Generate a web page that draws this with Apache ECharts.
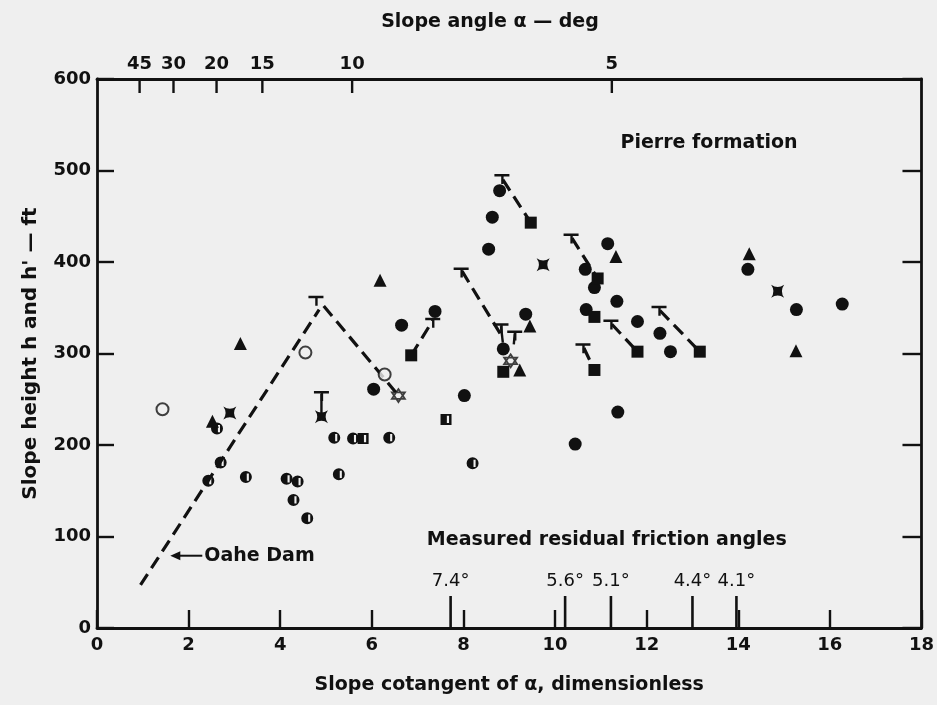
<!DOCTYPE html>
<html>
<head>
<meta charset="utf-8">
<script src="https://cdn.jsdelivr.net/npm/echarts@6/dist/echarts.min.js"></script>
<style>
html,body{margin:0;padding:0;background:#efefef;}
#chart{width:937px;height:705px;}
</style>
</head>
<body>
<div id="chart"></div>
<script>
// ---------- data ----------
const filledCircles = [[6.04,261],[6.65,331],[7.38,346],[8.02,254],[8.55,414],[8.63,449],[8.79,478],[8.87,305],[9.36,343],[10.44,201],[10.66,392],[10.86,372],[10.68,348],[11.15,420],[11.35,357],[11.37,236],[11.8,335],[12.29,322],[12.52,302],[14.21,392],[15.27,348],[16.27,354]];
const halfCircles = [[2.62,218],[2.7,181],[2.43,161],[3.25,165],[4.14,163],[4.38,160],[4.29,140],[4.59,120],[5.18,208],[5.28,168],[5.59,207],[6.38,208],[8.2,180]];
const halfSquares = [[5.81,207],[7.62,228]];
const openCircles = [[1.43,239],[4.55,301],[6.28,277]];
const triangles = [[2.52,226],[3.13,311],[6.18,380],[9.45,330],[9.23,282],[11.33,406],[14.24,409],[15.26,303]];
const squares = [[6.86,298],[9.47,443],[8.87,280],[10.93,382],[10.86,340],[10.86,282],[11.8,302],[13.16,302]];
const starSquares = [[2.9,235],[4.9,231],[9.74,397],[14.86,368]];
const openStars = [[6.58,254],[9.03,292]];
const hPrimeMarks = [[4.78,362],[4.9,258],[7.33,338],[7.95,393],[8.84,495],[8.82,332],[9.12,324],[10.35,430],[10.61,310],[11.22,336],[12.27,351]];
const dashedSegments = [
  [[0.95,47],[4.85,348]],
  [[4.95,352],[6.55,256]],
  [[6.86,298],[7.33,336]],
  [[8.86,490],[9.47,443]],
  [[7.97,390],[8.8,322]],
  [[10.37,426],[10.93,382]],
  [[10.63,306],[10.86,282]],
  [[11.24,332],[11.8,302]],
  [[12.29,347],[13.16,302]]
];
const solidStems = [[[4.9,256],[4.9,231]],[[8.82,330],[8.86,312]],[[9.12,322],[9.1,310]]];
const slopeAngleLabels = ['45','30','20','15','10','5'];
const slopeAnglePos = [0.93,1.67,2.61,3.61,5.57,11.24];
const frictionLabels = ['7.4°','5.6°','5.1°','4.4°','4.1°'];
const frictionPos = [7.72,10.22,11.22,13.0,13.96];

// ---------- styling ----------
const INK = '#111';
const BG = '#efefef';
const FONT = '"DejaVu Sans", sans-serif';
const TFONT = '"DejaVu Sans", sans-serif';

const halfCirclePath = 'path://M0,-10 A10,10 0 1,1 0,10 A10,10 0 1,1 0,-10 Z M1.5,-6 L1.5,6 L5,6 L5,-6 Z';
const halfSquarePath = 'path://M-10,-10 L10,-10 L10,10 L-10,10 Z M1.5,-6.5 L1.5,6.5 L5.5,6.5 L5.5,-6.5 Z';
const starSquarePath = 'path://M-10,-10 Q0,-3 10,-10 Q3,0 10,10 Q0,3 -10,10 Q-3,0 -10,-10 Z';
const hexagramPath = 'path://M0,-10 L8.66,5 L-8.66,5 Z M0,10 L-8.66,-5 L8.66,-5 Z';
const teePath = 'path://M-8,0 L7,0 L7,2.5 L1.2,2.5 L1.2,10 L-1.2,10 L-1.2,2.5 L-8,2.5 Z';

const chart = echarts.init(document.getElementById('chart'), null, {renderer:'canvas'});

function scatter(data, symbol, size, extra) {
  return Object.assign({
    type:'scatter', data, symbol, symbolSize:size, silent:true, z:4,
    itemStyle:{color:INK, opacity:1}
  }, extra || {});
}

const series = [];
dashedSegments.forEach(seg => series.push({
  type:'line', data:seg, symbol:'none', silent:true, z:2,
  lineStyle:{color:INK, width:3.2, type:[13,7]}
}));
solidStems.forEach(seg => series.push({
  type:'line', data:seg, symbol:'none', silent:true, z:2,
  lineStyle:{color:INK, width:2.4}
}));
series.push(scatter(filledCircles,'circle',13));
series.push(scatter(halfCircles,halfCirclePath,12));
series.push(scatter(halfSquares,halfSquarePath,11));
series.push(scatter(openCircles,'circle',12,{itemStyle:{color:BG,borderColor:INK,borderWidth:2}}));
series.push(scatter(triangles,'triangle',13));
series.push(scatter(squares,'rect',12));
series.push(scatter(starSquares,starSquarePath,13));
series.push(scatter(openStars,hexagramPath,13,{itemStyle:{color:BG,borderColor:INK,borderWidth:1.8}}));
series.push(scatter(hPrimeMarks,teePath,[15,10],{symbolOffset:[0,4]}));

// top slope-angle ticks
series.push({
  type:'custom', data:slopeAnglePos.map(x=>[x,600]), clip:false, silent:true, z:6,
  renderItem:(params, api) => {
    const p = api.coord([api.value(0), api.value(1)]);
    return {type:'group', children:[
      {type:'line', shape:{x1:p[0],y1:p[1],x2:p[0],y2:p[1]+14}, style:{stroke:INK,lineWidth:2.4}},
      {type:'text', x:p[0], y:p[1]-6, style:{text:slopeAngleLabels[params.dataIndex], textAlign:'center', textVerticalAlign:'bottom', font:'bold 18px '+FONT, fill:INK}}
    ]};
  }
});
// measured residual friction angle ticks
series.push({
  type:'custom', data:frictionPos.map(x=>[x,0]), clip:false, silent:true, z:6,
  renderItem:(params, api) => {
    const p = api.coord([api.value(0), api.value(1)]);
    return {type:'group', children:[
      {type:'line', shape:{x1:p[0],y1:p[1],x2:p[0],y2:p[1]-32}, style:{stroke:INK,lineWidth:2.6}},
      {type:'text', x:p[0], y:p[1]-38, style:{text:frictionLabels[params.dataIndex], textAlign:'center', textVerticalAlign:'bottom', font:'18px '+TFONT, fill:INK}}
    ]};
  }
});
// annotations
const notes = [
  {text:'Pierre formation', at:[11.43,530], align:'left'},
  {text:'Measured residual friction angles', at:[11.13,96], align:'center'}
];
series.push({
  type:'custom', data:notes.map(n=>n.at), clip:false, silent:true, z:6,
  renderItem:(params, api) => {
    const n = notes[params.dataIndex];
    const p = api.coord([api.value(0), api.value(1)]);
    return {type:'text', x:p[0], y:p[1], style:{text:n.text, textAlign:n.align, textVerticalAlign:'middle', font:'bold 19px '+FONT, fill:INK}};
  }
});
// Oahe Dam arrow + label
series.push({
  type:'custom', data:[[1.6,79]], clip:false, silent:true, z:6,
  renderItem:(params, api) => {
    const p = api.coord([api.value(0), api.value(1)]);
    return {type:'group', children:[
      {type:'polygon', shape:{points:[[p[0],p[1]],[p[0]+10,p[1]-4.5],[p[0]+10,p[1]+4.5]]}, style:{fill:INK}},
      {type:'line', shape:{x1:p[0]+8,y1:p[1],x2:p[0]+32,y2:p[1]}, style:{stroke:INK,lineWidth:2}},
      {type:'text', x:p[0]+34, y:p[1], style:{text:'Oahe Dam', textAlign:'left', textVerticalAlign:'middle', font:'bold 19px '+FONT, fill:INK}}
    ]};
  }
});

const axisLine = {show:true, onZero:false, lineStyle:{color:INK, width:2.8}};
chart.setOption({
  animation:false,
  backgroundColor:BG,
  grid:{left:97, right:12, top:79, bottom:77, containLabel:false},
  xAxis:[
    {type:'value', position:'bottom', min:0, max:18, interval:2,
     axisLine, splitLine:{show:false},
     axisTick:{show:true, inside:true, length:18, lineStyle:{color:INK,width:2.4}},
     axisLabel:{fontSize:18, fontFamily:FONT, fontWeight:'bold', color:INK, margin:8},
     name:'Slope cotangent of α, dimensionless', nameLocation:'middle', nameGap:48,
     nameTextStyle:{fontSize:19, fontFamily:FONT, fontWeight:'bold', color:INK}},
    {type:'value', position:'top', min:0, max:18, interval:2,
     axisLine, splitLine:{show:false}, axisTick:{show:false}, axisLabel:{show:false}}
  ],
  yAxis:[
    {type:'value', position:'left', min:0, max:600, interval:100,
     axisLine, splitLine:{show:false},
     axisTick:{show:true, inside:true, length:17, lineStyle:{color:INK,width:2.4}},
     axisLabel:{fontSize:18, fontFamily:FONT, fontWeight:'bold', color:INK, margin:6},
     name:"Slope height h and h' — ft", nameLocation:'middle', nameGap:56, nameRotate:90,
     nameTextStyle:{fontSize:20, fontFamily:FONT, fontWeight:'bold', color:INK}},
    {type:'value', position:'right', min:0, max:600, interval:100,
     axisLine, splitLine:{show:false},
     axisTick:{show:true, inside:true, length:19, lineStyle:{color:INK,width:2.4}},
     axisLabel:{show:false}}
  ],
  graphic:[
    {type:'text', x:490, y:22, style:{text:'Slope angle α — deg', textAlign:'center', textVerticalAlign:'middle', font:'bold 19px '+FONT, fill:INK}}
  ],
  series
});
</script>
</body>
</html>
